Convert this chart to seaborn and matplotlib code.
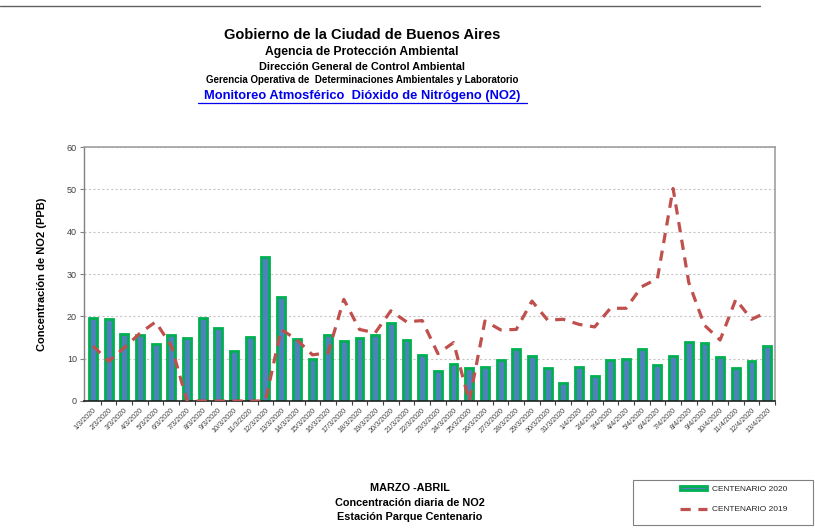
import numpy as np
import pandas as pd
import matplotlib
matplotlib.use("Agg")
import matplotlib.pyplot as plt
import seaborn as sns
from matplotlib.patches import Patch, Rectangle
from matplotlib.lines import Line2D
from matplotlib.ticker import FixedLocator

fechas = [f"{d}/3/2020" for d in range(1, 32)] + [f"{d}/4/2020" for d in range(1, 14)]

centenario_2020 = [19.7, 19.3, 15.9, 15.7, 13.5, 15.6, 14.9, 19.7, 17.2, 11.7,
                   15.2, 33.9, 24.6, 14.6, 10.0, 15.7, 14.1, 14.9, 15.7, 18.5,
                   14.3, 10.9, 7.1, 8.7, 7.7, 8.0, 9.6, 12.4, 10.6, 7.9,
                   4.3, 8.0, 5.9, 9.8, 10.0, 12.2, 8.6, 10.6, 13.9, 13.6,
                   10.5, 7.7, 9.4, 13.1]

centenario_2019 = [13.0, 9.4, 12.6, 16.0, 18.7, 13.0, 0.0, 0.0, 0.0, 0.0,
                   0.0, 0.0, 16.9, 14.5, 10.9, 11.4, 24.0, 16.9, 16.1, 21.3,
                   18.7, 19.0, 11.2, 13.8, 0.0, 18.9, 16.8, 16.9, 23.6, 19.1,
                   19.3, 18.1, 17.5, 21.9, 21.9, 27.0, 28.9, 50.2, 28.0, 17.9,
                   14.4, 24.0, 19.3, 21.0]

yticks = [0, 10, 20, 30, 40, 50, 60]

df = pd.DataFrame({"fecha": fechas, "c2020": centenario_2020,
                   "c2019": centenario_2019, "idx": np.arange(len(fechas))})

sns.set_theme(style="white")
plt.rcParams["font.family"] = ["Liberation Sans", "DejaVu Sans"]

fig = plt.figure(figsize=(8.15, 5.32), dpi=100)
ax = fig.add_axes([84 / 815, 1 - 401 / 532, (775 - 84) / 815, (401 - 147) / 532])

sns.barplot(data=df, x="fecha", y="c2020", order=fechas, color="#4F81BD",
            edgecolor="#00B050", linewidth=2.0, width=0.5, saturation=1,
            ax=ax, zorder=2)
sns.lineplot(data=df, x="idx", y="c2019", color="#C0504D", linewidth=2.3,
             ax=ax, zorder=3)
for ln in ax.lines:
    ln.set_dashes((3.2, 2.4))
    ln.set_solid_capstyle("butt")

ax.set_xlim(-0.57, len(fechas) - 0.5)
ax.set_ylim(0, 60)
ax.set_yticks(yticks)
ax.set_yticklabels([str(v) for v in yticks], fontsize=6.5, color="#404040")
ax.set_xticks(np.arange(len(fechas)))
ax.set_xticklabels(fechas, rotation=45, ha="right", rotation_mode="anchor",
                   fontsize=5.2, color="#404040")
ax.xaxis.set_minor_locator(FixedLocator(np.arange(len(fechas)) + 0.5))
ax.tick_params(axis="x", which="major", length=0, pad=4)
ax.tick_params(axis="x", which="minor", length=3, width=0.8, color="#404040",
               bottom=True, direction="out")
ax.tick_params(axis="y", length=3, width=0.8, color="#808080", left=True,
               direction="out", pad=2)
ax.set_xlabel("")
ax.set_ylabel("Concentración de NO2 (PPB)", fontsize=8, fontweight="bold",
              color="black", labelpad=14)
ax.yaxis.grid(True, linestyle=(0, (2, 2)), color="#C8C8C8", linewidth=0.8)
ax.set_axisbelow(True)
for s in ["top", "right"]:
    ax.spines[s].set_color("#A0A0A0")
    ax.spines[s].set_linewidth(1.2)
ax.spines["left"].set_color("#808080")
ax.spines["left"].set_linewidth(1.0)
ax.spines["bottom"].set_color("#202020")
ax.spines["bottom"].set_linewidth(1.2)

cx = 362 / 815
fig.text(cx, 1 - 35 / 532, "Gobierno de la Ciudad de Buenos Aires", ha="center",
         va="center", fontsize=10.5, fontweight="bold", color="black")
fig.text(cx, 1 - 52 / 532, "Agencia de Protección Ambiental", ha="center",
         va="center", fontsize=8.7, fontweight="bold", color="black")
fig.text(cx, 1 - 67 / 532, "Dirección General de Control Ambiental", ha="center",
         va="center", fontsize=7.8, fontweight="bold", color="black")
fig.text(cx, 1 - 80 / 532, "Gerencia Operativa de  Determinaciones Ambientales y Laboratorio",
         ha="center", va="center", fontsize=7.0, fontweight="bold", color="black")
fig.text(cx, 1 - 96 / 532, "Monitoreo Atmosférico  Dióxido de Nitrógeno (NO2)",
         ha="center", va="center", fontsize=9.3, fontweight="bold", color="#0000EE")
fig.add_artist(Line2D([198 / 815, 527 / 815], [1 - 103 / 532, 1 - 103 / 532],
                      color="#0000EE", linewidth=0.9))

bx = 410 / 815
fig.text(bx, 1 - 488 / 532, "MARZO -ABRIL", ha="center", va="center",
         fontsize=7.8, fontweight="bold", color="black")
fig.text(bx, 1 - 503 / 532, "Concentración diaria de NO2", ha="center", va="center",
         fontsize=7.8, fontweight="bold", color="black")
fig.text(bx, 1 - 517 / 532, "Estación Parque Centenario", ha="center", va="center",
         fontsize=7.8, fontweight="bold", color="black")

fig.add_artist(Line2D([0, 760 / 815], [1 - 6 / 532, 1 - 6 / 532],
                      color="#606060", linewidth=1.0))

fig.add_artist(Rectangle((633 / 815, 1 - 525 / 532), 180 / 815, 45 / 532,
                         transform=fig.transFigure, facecolor="white",
                         edgecolor="#808080", linewidth=0.8))

handles = [Patch(facecolor="#4F81BD", edgecolor="#00B050", linewidth=2.0),
           Line2D([0], [0], color="#C0504D", linewidth=2.3, dashes=(3.2, 2.4))]
leg = fig.legend(handles, ["CENTENARIO 2020", "CENTENARIO 2019"],
                 loc="center left", bbox_to_anchor=(680 / 815, 1 - 499.5 / 532),
                 fontsize=6, frameon=False, labelspacing=1.55, handlelength=3.2,
                 handleheight=0.45, borderaxespad=0, borderpad=0,
                 handletextpad=0.6)

fig.savefig("out.png", dpi=100)
